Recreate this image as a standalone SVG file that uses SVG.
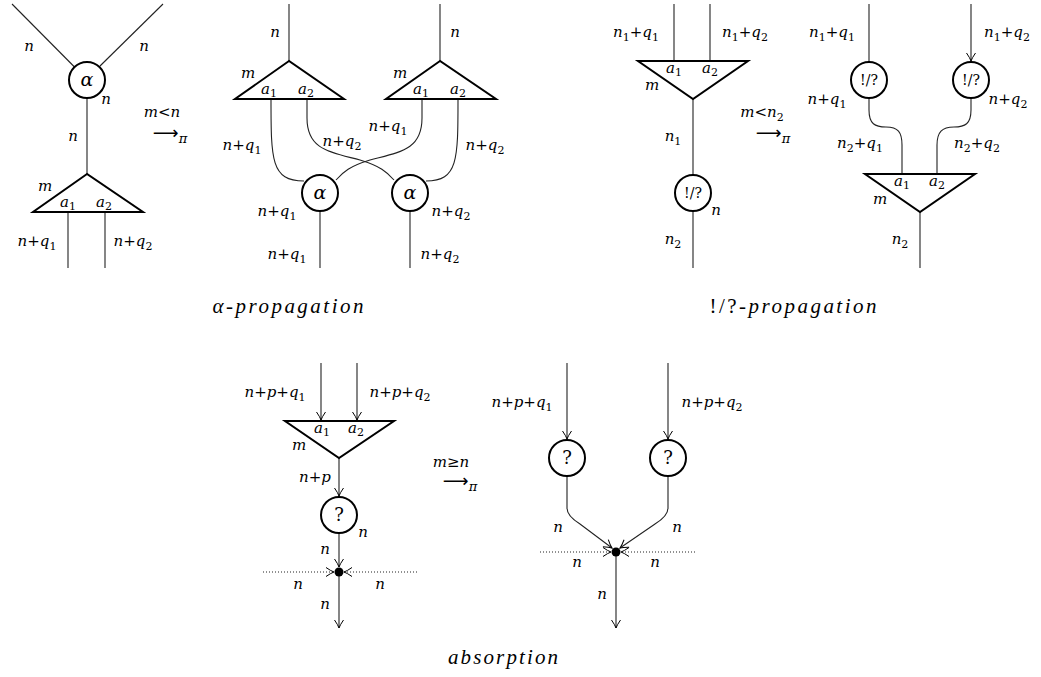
<svg xmlns="http://www.w3.org/2000/svg" width="1041" height="677" viewBox="0 0 1041 677">
<style>
.t{font-family:'DejaVu Serif',serif;font-size:15px;font-style:italic;fill:#000;text-anchor:middle}
.u{font-style:normal}
.s{font-size:11px;font-style:normal}
.cap{font-family:'Liberation Serif',serif;font-size:21px;font-style:italic;fill:#000;text-anchor:middle}
.ar{font-family:'DejaVu Sans',sans-serif;font-size:18px;font-style:normal}
.w{fill:none;stroke:#222;stroke-width:1.1}
.d{fill:none;stroke:#222;stroke-width:1.1;stroke-dasharray:1 2}
.node{fill:#fff;stroke:#000;stroke-width:2}
.tri{fill:#fff;stroke:#000;stroke-width:2;stroke-linejoin:miter}
.dot{fill:#000}
</style>
<defs>
<marker id="ah" viewBox="-10 -6 12 12" markerWidth="12" markerHeight="12" refX="0" refY="0" orient="auto" markerUnits="userSpaceOnUse">
<path d="M-8,-4.5 Q-3,-1 0,0 Q-3,1 -8,4.5" fill="none" stroke="#000" stroke-width="1" stroke-dasharray="none"/>
</marker>
</defs>

<g id="connectors">
<path class="w" d="M12,4 L74.5,67"/>
<path class="w" d="M163,4 L100,66"/>
<path class="w" d="M87,98 L87,174"/>
<path class="w" d="M68,212 L68,268"/>
<path class="w" d="M105,212 L105,268"/>
<path class="w" d="M289,4 L289,61"/>
<path class="w" d="M440,4 L440,61"/>
<path class="w" d="M271,99 C271,160 271,181 304,181"/>
<path class="w" d="M307,99 L307,118 C307,150 330,152 360,160 C380,166 387,172 394,180"/>
<path class="w" d="M422,99 L422,118 C422,150 400,152 370,160 C350,166 343,172 336,180"/>
<path class="w" d="M458,99 C458,160 458,181 426,181"/>
<path class="w" d="M320,211 L320,268"/>
<path class="w" d="M410,211 L410,268"/>
<path class="w" d="M674,4 L674,61"/>
<path class="w" d="M710,4 L710,61"/>
<path class="w" d="M693,99 L693,175"/>
<path class="w" d="M693,211 L693,268"/>
<path class="w" d="M869,4 L869,62"/>
<path class="w" d="M971,4 L971,61" marker-end="url(#ah)"/>
<path class="w" d="M869,98 L869,110 C869,124 875,127 886,127 C898,127 902,132 902,145 L902,174"/>
<path class="w" d="M971,98 L971,110 C971,124 965,127 954,127 C942,127 937,132 937,145 L937,174"/>
<path class="w" d="M920,212 L920,268"/>
<path class="w" d="M321,363 L321,420" marker-end="url(#ah)"/>
<path class="w" d="M357,363 L357,420" marker-end="url(#ah)"/>
<path class="w" d="M339,458 L339,496" marker-end="url(#ah)"/>
<path class="w" d="M339,533 L339,567" marker-end="url(#ah)"/>
<path class="w" d="M339,572 L339,628" marker-end="url(#ah)"/>
<path class="d" d="M263,572 L334,572" marker-end="url(#ah)"/>
<path class="d" d="M417,572 L344,572" marker-end="url(#ah)"/>
<path class="w" d="M567,363 L567,439" marker-end="url(#ah)"/>
<path class="w" d="M668,363 L668,439" marker-end="url(#ah)"/>
<path class="w" d="M567,476 L567,508 Q567,516 580,524 L612,548" marker-end="url(#ah)"/>
<path class="w" d="M668,476 L668,508 Q668,516 655,524 L620,548" marker-end="url(#ah)"/>
<path class="w" d="M616,552 L616,628" marker-end="url(#ah)"/>
<path class="d" d="M540,552 L611,552" marker-end="url(#ah)"/>
<path class="d" d="M695,552 L621,552" marker-end="url(#ah)"/>
</g>

<g id="p1-alpha"><circle class="node" cx="87" cy="80" r="18"/><text class="t" x="87" y="86" style="font-size:19px">α</text></g>
<g id="p1-tri"><polygon class="tri" points="87,174 33,212 143,212"/>
<text class="t" x="45" y="191">m</text>
<text class="t" x="68" y="207">a<tspan class="s" dy="3">1</tspan></text>
<text class="t" x="104" y="207">a<tspan class="s" dy="3">2</tspan></text></g>
<g id="p1-labels">
<text class="t" x="29" y="51">n</text>
<text class="t" x="144" y="51">n</text>
<text class="t" x="106" y="104">n</text>
<text class="t" x="73" y="141">n</text>
<text class="t" x="37" y="246">n<tspan class="u">+</tspan>q<tspan class="s" dy="4">1</tspan></text>
<text class="t" x="133" y="246">n<tspan class="u">+</tspan>q<tspan class="s" dy="4">2</tspan></text>
</g>
<g id="rule1">
<text class="t" x="162" y="117">m<tspan class="u">&lt;</tspan>n</text>
<text class="t" x="170" y="139"><tspan class="ar">⟶</tspan><tspan class="s" style="font-style:italic;font-size:13px" dy="4">π</tspan></text>
</g>

<g id="p2-triL"><polygon class="tri" points="289,61 235,99 344,99"/>
<text class="t" x="248" y="78">m</text>
<text class="t" x="269" y="94">a<tspan class="s" dy="3">1</tspan></text>
<text class="t" x="306" y="94">a<tspan class="s" dy="3">2</tspan></text></g>
<g id="p2-triR"><polygon class="tri" points="440,61 386,99 496,99"/>
<text class="t" x="400" y="78">m</text>
<text class="t" x="421" y="94">a<tspan class="s" dy="3">1</tspan></text>
<text class="t" x="458" y="94">a<tspan class="s" dy="3">2</tspan></text></g>
<g id="p2-alphaL"><circle class="node" cx="320" cy="193" r="18"/><text class="t" x="320" y="199" style="font-size:19px">α</text></g>
<g id="p2-alphaR"><circle class="node" cx="410" cy="193" r="18"/><text class="t" x="410" y="199" style="font-size:19px">α</text></g>
<g id="p2-labels">
<text class="t" x="275" y="37">n</text>
<text class="t" x="455" y="37">n</text>
<text class="t" x="242" y="150">n<tspan class="u">+</tspan>q<tspan class="s" dy="4">1</tspan></text>
<text class="t" x="342" y="146">n<tspan class="u">+</tspan>q<tspan class="s" dy="4">2</tspan></text>
<text class="t" x="388" y="131">n<tspan class="u">+</tspan>q<tspan class="s" dy="4">1</tspan></text>
<text class="t" x="485" y="150">n<tspan class="u">+</tspan>q<tspan class="s" dy="4">2</tspan></text>
<text class="t" x="277" y="216">n<tspan class="u">+</tspan>q<tspan class="s" dy="4">1</tspan></text>
<text class="t" x="451" y="216">n<tspan class="u">+</tspan>q<tspan class="s" dy="4">2</tspan></text>
<text class="t" x="287" y="259">n<tspan class="u">+</tspan>q<tspan class="s" dy="4">1</tspan></text>
<text class="t" x="440" y="259">n<tspan class="u">+</tspan>q<tspan class="s" dy="4">2</tspan></text>
</g>
<text class="cap" x="288" y="313" textLength="151" lengthAdjust="spacing">α-propagation</text>

<g id="p3-tri"><polygon class="tri" points="638,61 748,61 693,99"/>
<text class="t" x="674" y="73">a<tspan class="s" dy="3">1</tspan></text>
<text class="t" x="710" y="73">a<tspan class="s" dy="3">2</tspan></text>
<text class="t" x="652" y="90">m</text></g>
<g id="p3-bang"><circle class="node" cx="693" cy="193" r="18"/><text class="t" x="693" y="198" style="font-style:normal;font-size:14px">!/?</text></g>
<g id="p3-labels">
<text class="t" x="636" y="37">n<tspan class="s" dy="4">1</tspan><tspan class="u" dy="-4">+</tspan>q<tspan class="s" dy="4">1</tspan></text>
<text class="t" x="745" y="37">n<tspan class="s" dy="4">1</tspan><tspan class="u" dy="-4">+</tspan>q<tspan class="s" dy="4">2</tspan></text>
<text class="t" x="673" y="141">n<tspan class="s" dy="4">1</tspan></text>
<text class="t" x="716" y="215">n</text>
<text class="t" x="673" y="244">n<tspan class="s" dy="4">2</tspan></text>
</g>
<g id="rule2">
<text class="t" x="762" y="117">m<tspan class="u">&lt;</tspan>n<tspan class="s" dy="4">2</tspan></text>
<text class="t" x="773" y="139"><tspan class="ar">⟶</tspan><tspan class="s" style="font-style:italic;font-size:13px" dy="4">π</tspan></text>
</g>

<g id="p4-bangL"><circle class="node" cx="869" cy="80" r="18"/><text class="t" x="869" y="85" style="font-style:normal;font-size:14px">!/?</text></g>
<g id="p4-bangR"><circle class="node" cx="971" cy="80" r="18"/><text class="t" x="971" y="85" style="font-style:normal;font-size:14px">!/?</text></g>
<g id="p4-tri"><polygon class="tri" points="865,174 975,174 920,212"/>
<text class="t" x="902" y="186">a<tspan class="s" dy="3">1</tspan></text>
<text class="t" x="937" y="186">a<tspan class="s" dy="3">2</tspan></text>
<text class="t" x="880" y="204">m</text></g>
<g id="p4-labels">
<text class="t" x="832" y="37">n<tspan class="s" dy="4">1</tspan><tspan class="u" dy="-4">+</tspan>q<tspan class="s" dy="4">1</tspan></text>
<text class="t" x="1007" y="37">n<tspan class="s" dy="4">1</tspan><tspan class="u" dy="-4">+</tspan>q<tspan class="s" dy="4">2</tspan></text>
<text class="t" x="827" y="104">n<tspan class="u">+</tspan>q<tspan class="s" dy="4">1</tspan></text>
<text class="t" x="1008" y="104">n<tspan class="u">+</tspan>q<tspan class="s" dy="4">2</tspan></text>
<text class="t" x="860" y="148">n<tspan class="s" dy="4">2</tspan><tspan class="u" dy="-4">+</tspan>q<tspan class="s" dy="4">1</tspan></text>
<text class="t" x="977" y="148">n<tspan class="s" dy="4">2</tspan><tspan class="u" dy="-4">+</tspan>q<tspan class="s" dy="4">2</tspan></text>
<text class="t" x="900" y="244">n<tspan class="s" dy="4">2</tspan></text>
</g>
<text class="cap" x="793" y="313" textLength="167" lengthAdjust="spacing"><tspan style="font-style:normal">!/?</tspan>-propagation</text>

<g id="p5-tri"><polygon class="tri" points="285,421 394,421 339,458"/>
<text class="t" x="322" y="433">a<tspan class="s" dy="3">1</tspan></text>
<text class="t" x="356" y="433">a<tspan class="s" dy="3">2</tspan></text>
<text class="t" x="299" y="450">m</text></g>
<g id="p5-why"><circle class="node" cx="339" cy="515" r="18"/><text class="t" x="339" y="521" style="font-style:normal;font-size:18px">?</text></g>
<g id="p5-dot"><circle class="dot" cx="339" cy="572" r="4.5"/></g>
<g id="p5-labels">
<text class="t" x="275" y="397">n<tspan class="u">+</tspan>p<tspan class="u">+</tspan>q<tspan class="s" dy="4">1</tspan></text>
<text class="t" x="400" y="397">n<tspan class="u">+</tspan>p<tspan class="u">+</tspan>q<tspan class="s" dy="4">2</tspan></text>
<text class="t" x="315" y="482">n<tspan class="u">+</tspan>p</text>
<text class="t" x="363" y="537">n</text>
<text class="t" x="325" y="554">n</text>
<text class="t" x="298" y="589">n</text>
<text class="t" x="380" y="589">n</text>
<text class="t" x="325" y="609">n</text>
</g>
<g id="rule3">
<text class="t" x="451" y="467">m<tspan class="u">≥</tspan>n</text>
<text class="t" x="460" y="487"><tspan class="ar">⟶</tspan><tspan class="s" style="font-style:italic;font-size:13px" dy="4">π</tspan></text>
</g>

<g id="p6-whyL"><circle class="node" cx="567" cy="458" r="18"/><text class="t" x="567" y="464" style="font-style:normal;font-size:18px">?</text></g>
<g id="p6-whyR"><circle class="node" cx="668" cy="458" r="18"/><text class="t" x="668" y="464" style="font-style:normal;font-size:18px">?</text></g>
<g id="p6-dot"><circle class="dot" cx="616" cy="552" r="4.5"/></g>
<g id="p6-labels">
<text class="t" x="522" y="407">n<tspan class="u">+</tspan>p<tspan class="u">+</tspan>q<tspan class="s" dy="4">1</tspan></text>
<text class="t" x="712" y="407">n<tspan class="u">+</tspan>p<tspan class="u">+</tspan>q<tspan class="s" dy="4">2</tspan></text>
<text class="t" x="558" y="532">n</text>
<text class="t" x="677" y="532">n</text>
<text class="t" x="577" y="567">n</text>
<text class="t" x="655" y="567">n</text>
<text class="t" x="602" y="599">n</text>
</g>
<text class="cap" x="503" y="664" textLength="110" lengthAdjust="spacing">absorption</text>
</svg>
